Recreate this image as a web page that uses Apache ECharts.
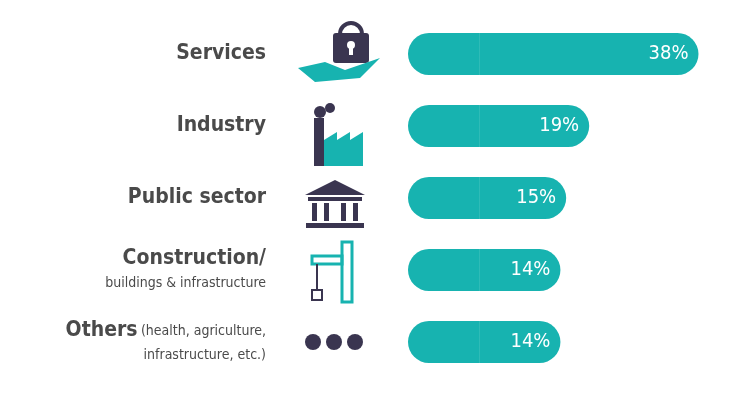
<!DOCTYPE html>
<html><head><meta charset="utf-8">
<script src="https://cdn.jsdelivr.net/npm/echarts@6/dist/echarts.min.js"></script>
<style>html,body{margin:0;background:#fff}#c{width:750px;height:400px}</style>
</head><body><div id="c"></div>
<script>
const categories = ['Services','Industry','Public sector','Construction','Others'];
const values = [38,19,15,14,14];
const valueLabels = ['38%','19%','15%','14%','14%'];
const baseOffset = [12.5,12.5,12.5,12.5,12.5];
const F = '"Liberation Sans Narrow","DejaVu Sans Condensed","Roboto Condensed",sans-serif';
const dark = '#3a3550', teal = '#17b3b0';
const chart = echarts.init(document.getElementById('c'));
chart.setOption({
  animation:false,
  grid:{left:408,right:40,top:18,bottom:22},
  xAxis:{type:'value',min:0,max:52.5,show:false},
  yAxis:{type:'category',inverse:true,data:categories,axisLine:{show:false},axisTick:{show:false},
    axisLabel:{margin:142,align:'right',formatter:function(v){
      if(v==='Construction') return '{b|Construction/}\n{s|buildings & infrastructure}';
      if(v==='Others') return '{b|Others} {s|(health, agriculture,}\n{s|infrastructure, etc.)}';
      return '{b|'+v+'}';},
      rich:{b:{fontFamily:F,fontWeight:'bold',fontSize:21,color:'#4a4a4a',lineHeight:26},
            s:{fontFamily:F,fontSize:14,color:'#4a4a4a',lineHeight:22}}}},
  series:[
    {type:'bar',stack:'a',data:baseOffset,barWidth:42,silent:true,
      itemStyle:{color:teal,borderRadius:[21,0,0,21]}},
    {type:'bar',stack:'a',data:values,barWidth:42,
      itemStyle:{color:teal,borderRadius:[0,21,21,0]},
      label:{show:true,position:'insideRight',distance:10,color:'#fff',fontFamily:F,fontSize:20,
        formatter:p=>valueLabels[p.dataIndex]}}],
  graphic:[
    {type:'rect',shape:{x:333,y:33,width:36,height:30,r:3},style:{fill:dark}},
    {type:'arc',shape:{cx:351,cy:34,r:11,startAngle:Math.PI,endAngle:0},style:{stroke:dark,lineWidth:4,fill:null}},
    {type:'circle',shape:{cx:351,cy:45,r:4},style:{fill:'#fff'}},
    {type:'rect',shape:{x:349,y:46,width:4,height:9},style:{fill:'#fff'}},
    {type:'polygon',shape:{points:[[298,68],[325,62],[345,70],[380,58],[360,78],[315,82]]},style:{fill:teal}},
    {type:'rect',shape:{x:314,y:118,width:10,height:48},style:{fill:dark}},
    {type:'circle',shape:{cx:320,cy:112,r:6},style:{fill:dark}},
    {type:'circle',shape:{cx:330,cy:108,r:5},style:{fill:dark}},
    {type:'polygon',shape:{points:[[324,166],[324,140],[337,132],[337,140],[350,132],[350,140],[363,132],[363,166]]},style:{fill:teal}},
    {type:'polygon',shape:{points:[[305,195],[335,180],[365,195]]},style:{fill:dark}},
    {type:'rect',shape:{x:308,y:197,width:54,height:4},style:{fill:dark}},
    {type:'rect',shape:{x:312,y:203,width:5,height:18},style:{fill:dark}},
    {type:'rect',shape:{x:324,y:203,width:5,height:18},style:{fill:dark}},
    {type:'rect',shape:{x:341,y:203,width:5,height:18},style:{fill:dark}},
    {type:'rect',shape:{x:353,y:203,width:5,height:18},style:{fill:dark}},
    {type:'rect',shape:{x:306,y:223,width:58,height:5},style:{fill:dark}},
    {type:'rect',shape:{x:342,y:242,width:10,height:60},style:{stroke:teal,lineWidth:3,fill:null}},
    {type:'rect',shape:{x:312,y:256,width:30,height:8},style:{stroke:teal,lineWidth:3,fill:null}},
    {type:'rect',shape:{x:312,y:290,width:10,height:10},style:{stroke:dark,lineWidth:2,fill:null}},
    {type:'line',shape:{x1:317,y1:264,x2:317,y2:290},style:{stroke:dark,lineWidth:2}},
    {type:'circle',shape:{cx:313,cy:342,r:8},style:{fill:dark}},
    {type:'circle',shape:{cx:334,cy:342,r:8},style:{fill:dark}},
    {type:'circle',shape:{cx:355,cy:342,r:8},style:{fill:dark}}
  ]
});
</script></body></html>
